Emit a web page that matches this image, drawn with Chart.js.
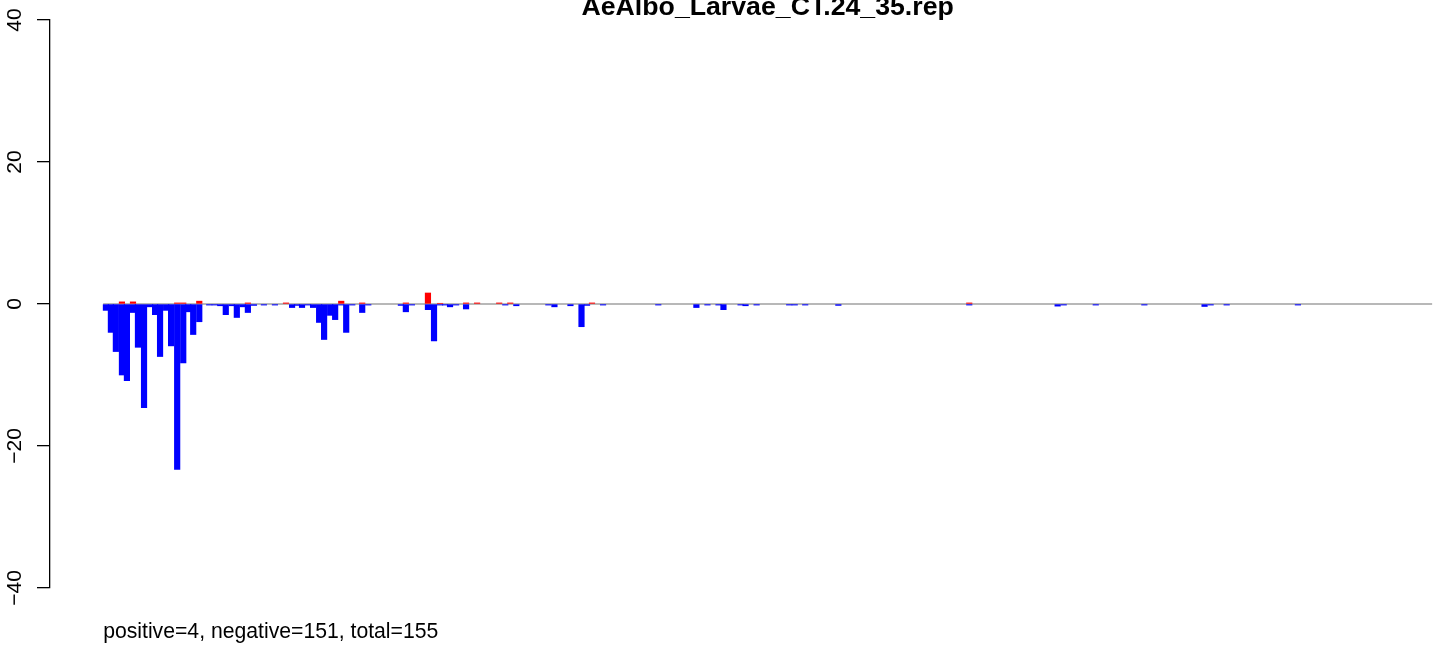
<!DOCTYPE html>
<html>
<head>
<meta charset="utf-8">
<script src="https://cdn.jsdelivr.net/npm/chart.js@4"></script>
<style>
  html, body { margin: 0; padding: 0; background: #fff; overflow: hidden; }
  #wrap { position: relative; width: 1436px; height: 645px; }
</style>
</head>
<body>
<div id="wrap"><canvas id="c"></canvas></div>
<script>
// ---- data ----
const titleText = 'AeAlbo_Larvae_CT.24_35.rep';
const footerText = 'positive=4, negative=151, total=155';
const trackStart = 0;          // start of the position track (zero line)
const trackEnd = 240.6;        // end of the position track
const yTickValues = [-40, -20, 0, 20, 40];
const yTickLabels = ['\u221240', '\u221220', '0', '20', '40'];

// negative (blue) bars: position along the track -> value
const negPos = [0.5,1.4,2.3,3.4,4.3,5.4,6.3,7.4,8.5,9.4,10.3,11.4,12.3,13.4,14.5,15.4,16.3,17.4,19.2,20.2,
  21.2,22.2,23.3,24.2,25.3,26.2,27.3,29.1,31.1,34.2,35.1,36.0,37.1,38.0,39.1,40.0,41.1,42.0,43.1,44.0,
  45.1,46.9,48.0,53.9,54.8,55.9,58.8,59.9,61.0,61.9,62.8,63.9,65.7,72.8,74.8,80.6,81.7,84.6,86.6,87.6,
  90.5,100.5,107.4,109.4,111.4,112.3,115.4,116.3,118.3,124.2,125.2,127.1,133.1,156.8,172.8,173.9,179.7,188.5,199.4,200.5,
  203.4,216.3];
const negValue = [-0.9,-4.0,-6.7,-10.0,-10.8,-1.2,-6.1,-14.6,-0.4,-1.5,-7.4,-0.9,-5.9,-23.3,-8.3,-1.1,-4.3,-2.5,-0.15,-0.15,
  -0.25,-1.5,-0.25,-1.9,-0.4,-1.2,-0.2,-0.15,-0.15,-0.5,-0.2,-0.5,-0.15,-0.5,-2.6,-5.0,-1.6,-2.2,-0.15,-4.0,
  -0.15,-1.2,-0.15,-0.2,-1.1,-0.15,-0.8,-5.2,-0.15,-0.15,-0.4,-0.15,-0.7,-0.15,-0.25,-0.15,-0.4,-0.25,-3.2,-0.2,
  -0.15,-0.15,-0.5,-0.15,-0.15,-0.8,-0.15,-0.25,-0.15,-0.15,-0.15,-0.15,-0.2,-0.15,-0.3,-0.15,-0.15,-0.15,-0.35,-0.15,
  -0.15,-0.15];

// positive (red) bars: position along the track -> value
const posPos = [3.4,5.4,13.4,14.5,17.4,26.2,33.1,43.1,46.9,54.8,58.8,61.0,65.7,67.7,71.7,73.7,88.5,156.8];
const posValue = [0.3,0.3,0.15,0.15,0.4,0.15,0.15,0.4,0.15,0.15,1.55,0.1,0.15,0.15,0.15,0.15,0.15,0.15];

// ---- build series ----
const negPoints = negPos.map((p, i) => ({ x: p, y: negValue[i] }));
const posPoints = posPos.map((p, i) => ({ x: p, y: posValue[i] }));
const zeroLine = [{ x: trackStart, y: 0 }, { x: trackEnd, y: 0 }];

// R-style extended x range (4% each side); the right side is cut by the window
const trackLen = trackEnd - trackStart;
const xMin = trackStart - 0.04 * trackLen;
const xMaxVisible = trackEnd + 0.7;
const plotCenter = (trackStart + trackEnd) / 2;
const BAR_PX = 5.52;

const FONT = '"Liberation Sans", Arial, Helvetica, sans-serif';

const textPlugin = {
  id: 'rtext',
  afterDraw(chart) {
    const ctx = chart.ctx;
    const xs = chart.scales.x, ys = chart.scales.y;
    ctx.save();
    ctx.fillStyle = '#000';
    // title
    ctx.font = 'bold 26.7px ' + FONT;
    ctx.textAlign = 'center';
    ctx.textBaseline = 'alphabetic';
    ctx.fillText(titleText, xs.getPixelForValue(plotCenter), 15);
    // y tick labels, rotated (parallel to axis)
    ctx.font = '21px ' + FONT;
    yTickValues.forEach((v, i) => {
      const py = ys.getPixelForValue(v);
      ctx.save();
      ctx.translate(21, py);
      ctx.rotate(-Math.PI / 2);
      ctx.textAlign = 'center';
      ctx.textBaseline = 'alphabetic';
      ctx.fillText(yTickLabels[i], 0, 0);
      ctx.restore();
    });
    // footer
    ctx.font = '21.2px ' + FONT;
    ctx.textAlign = 'left';
    ctx.fillText(footerText, xs.getPixelForValue(trackStart), 638);
    ctx.restore();
  }
};

new Chart(document.getElementById('c'), {
  type: 'bar',
  data: {
    datasets: [
      { type: 'line', data: zeroLine, borderColor: '#a0a0a0', borderWidth: 1.5,
        pointRadius: 0, fill: false, order: 2 },
      { data: posPoints, backgroundColor: '#ff0000', borderWidth: 0, order: 0,
        barThickness: BAR_PX },
      { data: negPoints, backgroundColor: '#0000ff', borderWidth: 0, order: 0,
        barThickness: BAR_PX }
    ]
  },
  options: {
    responsive: true,
    maintainAspectRatio: false,
    animation: false,
    events: [],
    layout: { padding: { top: 20, bottom: 57, left: 0, right: 0 } },
    plugins: { legend: { display: false }, tooltip: { enabled: false }, title: { display: false } },
    scales: {
      x: {
        type: 'linear', stacked: true, display: false, offset: false,
        grid: { offset: false },
        min: xMin, max: xMaxVisible
      },
      y: {
        stacked: true, min: -40, max: 40,
        ticks: { display: false, stepSize: 20 },
        grid: { drawOnChartArea: false, drawTicks: true, tickLength: 13, color: '#000', lineWidth: 1.3 },
        border: { display: true, color: '#000', width: 1.3 },
        afterFit(scale) { scale.width = 50; }
      }
    }
  },
  plugins: [textPlugin]
});
</script>
</body>
</html>
